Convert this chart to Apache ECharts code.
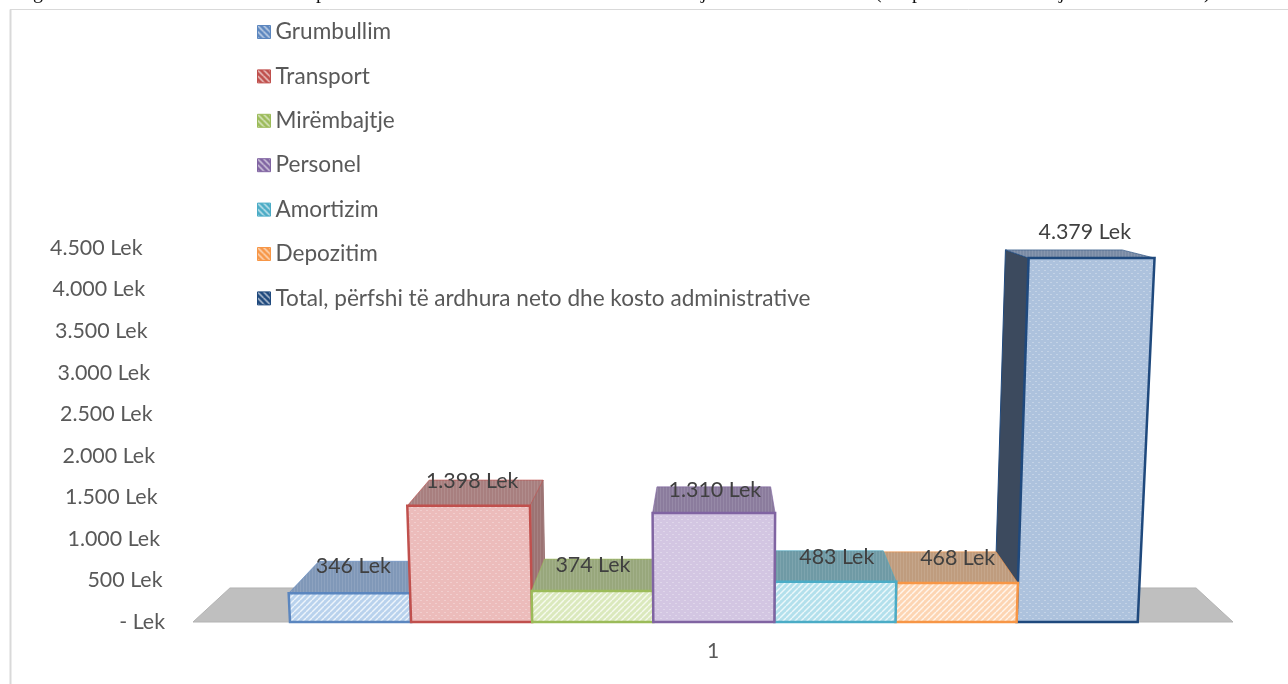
<!DOCTYPE html>
<html>
<head>
<meta charset="utf-8">
<title>Kosto</title>
<style>
  html, body { margin: 0; padding: 0; background: #fff; }
  #myChart { width: 1288px; height: 684px; }
</style>
<script src="https://cdn.jsdelivr.net/npm/echarts@6/dist/echarts.min.js"></script>
</head>
<body>
<div id="myChart"></div>
<script>
  var categories = ['1'];
  var seriesNames = ['Grumbullim', 'Transport', 'Mirëmbajtje', 'Personel', 'Amortizim', 'Depozitim', 'Total, përfshi të ardhura neto dhe kosto administrative'];
  var seriesValues = [346, 1398, 374, 1310, 483, 468, 4379];
  var valueLabels = ['346 Lek', '1.398 Lek', '374 Lek', '1.310 Lek', '483 Lek', '468 Lek', '4.379 Lek'];
  var yTickLabels = ['- Lek', '500 Lek', '1.000 Lek', '1.500 Lek', '2.000 Lek', '2.500 Lek', '3.000 Lek', '3.500 Lek', '4.000 Lek', '4.500 Lek'];

  // look of each bar: border, front, top, side, hatch direction
  var borderColors = ['#5b86bf', '#c0504d', '#9bbb59', '#8064a2', '#4bacc6', '#f79646', '#1f497d'];
  var frontColors = ['#b9d2ed', '#ecbcbb', '#dbe9bd', '#d3c6e2', '#b3e0ec', '#fdd5b3', '#adc2dd'];
  var topColors = ['#8098b8', '#a87f7f', '#98a77c', '#8b7c9d', '#6f9aa5', '#bf9c7e', '#7a8ba5'];
  var sideColors = ['#7d92ae', '#9c7373', '#8e9c74', '#85769a', '#688f9a', '#b5936f', '#3c4a5e'];
  var frontKinds = ['hatch', 'dots', 'hatch', 'dots', 'hatch', 'hatch', 'dots'];
  var drawOrder = [1, 2, 3, 7, 6, 5, 4];
  // label offset from the middle of the back top edge
  var labelOffsets = [[-22, 5], [-14, 1], [-8, 6], [1, 3], [10, 6], [18, 6], [21, -18]];

  var K = 0.071;        // how far the floor depth pulls towards the vanishing point
  var VP_Y = 143;
  var TILT = 0.000109;  // verticals lean outwards going up
  var FLOOR_LEFT = -520, FLOOR_RIGHT = 520;
  var BARS_LEFT = -423, BAR_W = 121.1;

  function makeTile(size, draw) {
    var c = document.createElement('canvas');
    c.width = size; c.height = size;
    draw(c.getContext('2d'), size);
    return { image: c, repeat: 'repeat' };
  }
  function frontPattern(bg, kind) {
    return makeTile(6, function (g, s) {
      g.fillStyle = bg;
      g.fillRect(0, 0, s, s);
      if (kind === 'hatch') {
        g.strokeStyle = 'rgba(255,255,255,0.75)';
        g.lineWidth = 1.4;
        for (var i = -s; i <= s; i += s) {
          g.beginPath(); g.moveTo(i, s); g.lineTo(i + s, 0); g.stroke();
        }
      } else {
        g.fillStyle = 'rgba(255,255,255,0.28)';
        g.fillRect(0, 0, 2, 1);
        g.fillRect(3, 3, 2, 1);
      }
    });
  }
  function topPattern(bg) {
    return makeTile(3, function (g, s) {
      g.fillStyle = bg;
      g.fillRect(0, 0, s, s);
      g.fillStyle = 'rgba(255,255,255,0.10)';
      g.fillRect(0, 0, 1, s);
    });
  }
  function legendPattern(color) {
    return makeTile(6, function (g, s) {
      g.fillStyle = color;
      g.fillRect(0, 0, s, s);
      g.strokeStyle = 'rgba(255,255,255,0.7)';
      g.lineWidth = 1.5;
      for (var i = -s; i <= s; i += s) {
        g.beginPath(); g.moveTo(i, 0); g.lineTo(i + s, s); g.stroke();
      }
    });
  }

  function projector(api) {
    var vx = api.coord([0, 0])[0];
    var ground = api.coord([0, 0])[1];
    return function (x, d, h) {
      var gx = x + (vx - x) * d * K;
      var gy = ground + (VP_Y - ground) * d * K;
      var hp = h * (1 - d * K);
      return [gx + (gx - vx) * TILT * hp, gy - hp];
    };
  }

  function renderFloor(params, api) {
    var vx = api.coord([0, 0])[0];
    var P = projector(api);
    return {
      type: 'polygon',
      shape: { points: [P(vx + FLOOR_LEFT, 0, 0), P(vx + FLOOR_RIGHT, 0, 0), P(vx + FLOOR_RIGHT, 1, 0), P(vx + FLOOR_LEFT, 1, 0)] },
      style: { fill: '#bfbfbf', stroke: '#b3b3b3', lineWidth: 1 }
    };
  }

  function renderBar(idx) {
    return function (params, api) {
      var vx = api.coord([0, 0])[0];
      var ground = api.coord([0, 0])[1];
      var h = ground - api.coord([0, api.value(1)])[1];
      var P = projector(api);
      var x0 = vx + BARS_LEFT + idx * BAR_W;
      var x1 = x0 + BAR_W;
      var line = borderColors[idx];
      var kids = [];
      if (x1 < vx) {
        kids.push({ type: 'polygon', shape: { points: [P(x1, 0, 0), P(x1, 0, h), P(x1, 1, h), P(x1, 1, 0)] },
          style: { fill: topPattern(sideColors[idx]), stroke: sideColors[idx], lineWidth: 1 } });
      }
      if (x0 > vx) {
        kids.push({ type: 'polygon', shape: { points: [P(x0, 0, 0), P(x0, 0, h), P(x0, 1, h), P(x0, 1, 0)] },
          style: { fill: sideColors[idx], stroke: line, lineWidth: 1 } });
      }
      kids.push({ type: 'polygon', shape: { points: [P(x0, 0, h), P(x1, 0, h), P(x1, 1, h), P(x0, 1, h)] },
        style: { fill: topPattern(topColors[idx]), stroke: line, lineWidth: 1, strokeOpacity: 0.6 } });
      kids.push({ type: 'polygon', shape: { points: [P(x0, 0, 0), P(x1, 0, 0), P(x1, 0, h), P(x0, 0, h)] },
        style: { fill: frontPattern(frontColors[idx], frontKinds[idx]), stroke: line, lineWidth: 2.5 } });
      var backL = P(x0, 1, h), backR = P(x1, 1, h);
      kids.push({ type: 'text', z2: 50, style: {
        x: (backL[0] + backR[0]) / 2 + labelOffsets[idx][0],
        y: backL[1] + labelOffsets[idx][1],
        text: valueLabels[idx], align: 'center', verticalAlign: 'middle',
        fill: '#404040', font: '21.4px Lato'
      } });
      return { type: 'group', children: kids };
    };
  }

  var axisRich = {};
  yTickLabels.forEach(function (t, i) {
    axisRich['r' + i] = { padding: [0, i * 2.5, 0, 0], fontFamily: 'Lato', fontSize: 21.4, color: '#595959' };
  });

  var series = [{
    name: 'floor', type: 'custom', z: 1, silent: true,
    renderItem: renderFloor, data: [[0, 0]], encode: { x: 0, y: 1 }
  }];
  seriesNames.forEach(function (name, i) {
    series.push({
      name: name, type: 'custom', z: 2 + drawOrder[i], silent: true,
      renderItem: renderBar(i),
      itemStyle: { color: borderColors[i] },
      data: [[0, seriesValues[i]]], encode: { x: 0, y: 1 }
    });
  });

  // the caption line above the chart is cut by the picture edge, only descenders are left
  var cutGlyphs = [['g', 33], ['p', 316], ['j', 701], ['(', 875], ['p', 912], ['j', 1059], [')', 1204]];
  var graphics = [
    { type: 'line', silent: true, z: 100, shape: { x1: 10.5, y1: 9.5, x2: 10.5, y2: 684 }, style: { stroke: '#d9d9d9', lineWidth: 2 } },
    { type: 'line', silent: true, z: 100, shape: { x1: 10, y1: 9.5, x2: 1288, y2: 9.5 }, style: { stroke: '#d9d9d9', lineWidth: 1 } }
  ];
  cutGlyphs.forEach(function (g) {
    graphics.push({ type: 'text', silent: true, z: 100, x: g[1], y: 3,
      style: { text: g[0], fill: '#111', font: '20px "Liberation Serif"', verticalAlign: 'bottom', align: 'left' } });
  });

  var myChart = echarts.init(document.getElementById('myChart'));
  myChart.setOption({
    animation: false,
    backgroundColor: '#fff',
    graphic: graphics,
    legend: {
      orient: 'vertical',
      left: 252, top: 15,
      itemWidth: 13, itemHeight: 13, itemGap: 20.4,
      selectedMode: false,
      icon: 'rect',
      textStyle: { fontFamily: 'Lato', fontSize: 22.6, color: '#595959', lineHeight: 24 },
      data: seriesNames.map(function (name, i) {
        return { name: name, itemStyle: { color: legendPattern(borderColors[i]), borderColor: borderColors[i], borderWidth: 1 } };
      })
    },
    grid: { left: 193, right: 55, top: 248, bottom: 62 },
    xAxis: {
      type: 'category',
      data: categories,
      axisLine: { show: false },
      axisTick: { show: false },
      axisLabel: { margin: 19, fontFamily: 'Lato', fontSize: 21, color: '#595959' }
    },
    yAxis: {
      type: 'value',
      min: 0, max: 4500, interval: 500,
      splitLine: { show: false },
      axisLine: { show: false },
      axisTick: { show: false },
      axisLabel: {
        margin: 28,
        formatter: function (value) {
          var i = Math.round(value / 500);
          return '{r' + i + '|' + yTickLabels[i] + '}';
        },
        rich: axisRich
      }
    },
    series: series
  });
</script>
</body>
</html>
